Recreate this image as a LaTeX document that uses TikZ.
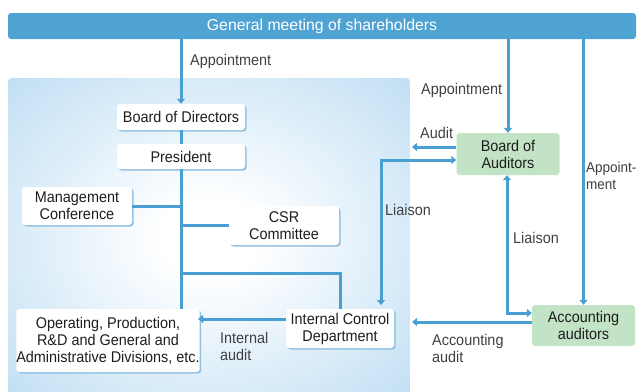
\documentclass[tikz,border=0pt]{standalone}
\usepackage{fontspec}
\setmainfont{Liberation Sans}[FakeStretch=0.93]
\newfontfamily\barfont{Liberation Sans}
\usetikzlibrary{arrows.meta,shadows}

\definecolor{linkblue}{HTML}{4A9FD2}
\definecolor{barblue}{HTML}{4FA3D3}
\definecolor{panelblue}{HTML}{B7DAF2}
\definecolor{shadowblue}{HTML}{93BFDF}
\definecolor{auditgreen}{HTML}{C2E3C5}
\definecolor{inktext}{HTML}{1E1E1E}
\definecolor{labeltext}{HTML}{404040}

% soft glow in the middle of the executive panel
\pgfdeclareradialshading{panelglow}{\pgfpoint{0bp}{0bp}}{%
  color(0bp)=(white); color(6bp)=(white); color(40bp)=(panelblue); color(50bp)=(panelblue)}

\begin{document}
\begin{tikzpicture}[x=1pt, y=-1pt,
  font=\fontsize{15.5}{17}\selectfont,
  whitebox/.style={fill=white, rounded corners=3pt, align=center, text=inktext,
    inner sep=0pt, drop shadow={shadow xshift=1.5pt, shadow yshift=-1.5pt,
    fill=shadowblue, opacity=1}},
  greenbox/.style={fill=auditgreen, rounded corners=3pt, align=center,
    text=inktext, inner sep=0pt},
  topbar/.style={fill=barblue, rounded corners=3pt, text=white, inner sep=0pt,
    font=\barfont\fontsize{15.8}{17}\selectfont},
  link/.style={draw=linkblue, line width=3pt},
  tipend/.style={-{Triangle[length=5pt,width=8pt]}},
  tipboth/.style={{Triangle[length=5pt,width=8pt]}-{Triangle[length=5pt,width=8pt]}},
  lbl/.style={anchor=west, align=left, text=labeltext, inner sep=0pt}
]
\useasboundingbox (0,0) rectangle (637,391);

% executive panel
\shade[shading=panelglow, rounded corners=4pt] (8,78) rectangle (410,398);

% boxes
\node[topbar, minimum width=628pt, minimum height=26pt] (gm) at (322,26)
  {General meeting of shareholders};
\node[whitebox, minimum width=128pt, minimum height=26pt] (bod) at (181,117)
  {Board of Directors};
\node[whitebox, minimum width=128pt, minimum height=25pt] (pres) at (181,156.5)
  {President};
\node[whitebox, minimum width=110pt, minimum height=38pt] (mgmt) at (77,206)
  {Management\\Conference};
\node[whitebox, minimum width=110pt, minimum height=39pt] (csr) at (284,225.5)
  {CSR\\Committee};
\node[whitebox, minimum width=172pt, minimum height=63pt] (ops) at (108,340.5)
  {Operating, Production,\\R\&D and General and\\Administrative Divisions, etc.};
\node[whitebox, minimum width=108pt, minimum height=39pt] (icd) at (340,328.5)
  {Internal Control\\Department};
\node[greenbox, minimum width=103pt, minimum height=42pt] (boa) at (508,154)
  {Board of\\Auditors};
\node[greenbox, minimum width=103pt, minimum height=41pt] (acc) at (583.5,325.5)
  {Accounting\\auditors};

% free ends and bends
\coordinate (tee) at (181,273);
\coordinate (auditEnd) at (412,147);
\coordinate (acctEnd) at (412,322);
\coordinate (icdTop) at (381,305);
\coordinate (iaStart) at (286,319);
\coordinate (iaEnd) at (198,319);

% executive line
\draw[link, tipend] (bod.north |- gm.south) -- (bod.north);
\draw[link] (bod.south) -- (pres.north);
\draw[link] (pres.south) -- (pres.south |- ops.north);
\draw[link] (mgmt.east) -- (mgmt.east -| pres.south);
\draw[link] (csr.west) -- (csr.west -| pres.south);
\draw[link] (tee) -| (icd.north);
\draw[link, tipend] (iaStart) -- (iaEnd);

% auditors
\draw[link, tipend] (boa.north |- gm.south) -- (boa.north);
\draw[link, tipend] (acc.north |- gm.south) -- (acc.north);
\draw[link, tipend] ([yshift=7pt]boa.west) -- (auditEnd);
\draw[link, tipboth] ([yshift=-6pt]boa.west) -| (icdTop);
\draw[link, tipboth] ([xshift=-1pt]boa.south) |- ([yshift=12.5pt]acc.west);
\draw[link, tipend] ([yshift=3.5pt]acc.west) -- (acctEnd);

% connector labels
\node[lbl] (l1) at (190,61) {Appointment};
\node[lbl] (l2) at (421,90) {Appointment};
\node[lbl] (l3) at (420,133) {Audit};
\node[lbl] (l4) at (385,210) {Liaison};
\node[lbl, font=\fontsize{14.5}{17}\selectfont] (l5) at (586,175.5) {Appoint-\\ment};
\node[lbl] (l6) at (513,238) {Liaison};
\node[lbl] (l7) at (220,346.5) {Internal\\audit};
\node[lbl] (l8) at (432,348.5) {Accounting\\audit};
\end{tikzpicture}
\end{document}
